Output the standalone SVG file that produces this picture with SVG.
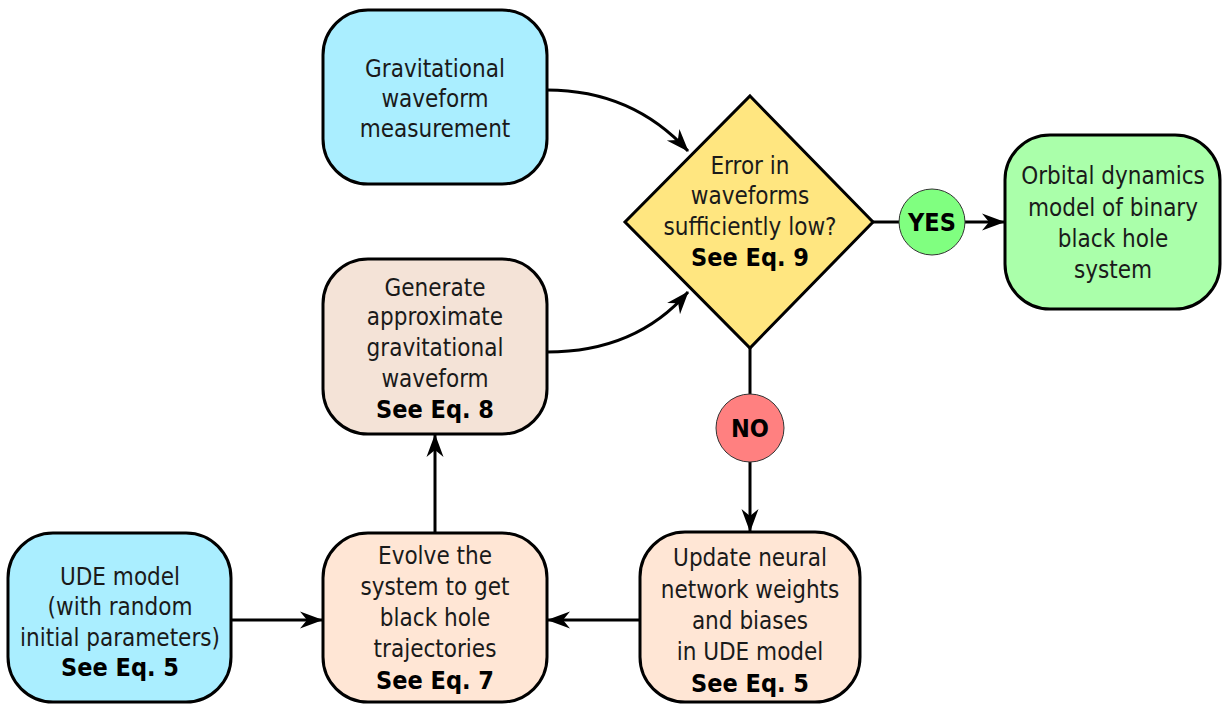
<svg xmlns="http://www.w3.org/2000/svg" width="1222" height="706" viewBox="0 0 1222 706">
<style>
.box{stroke:#000;stroke-width:3}
.t{font-family:"DejaVu Sans Condensed","DejaVu Sans",sans-serif;font-stretch:condensed;font-size:24px;fill:#1a1a1a;text-anchor:middle}
.b{font-weight:bold;fill:#000;font-size:25px}
.c{fill:none;stroke:#000;stroke-width:3}
.a{marker-end:url(#ah)}
</style>
<defs>
<marker id="ah" markerWidth="26" markerHeight="20" refX="22" refY="10" orient="auto" markerUnits="userSpaceOnUse">
<path d="M0,1.5 L23,10 L0,18.5 L7,10 Z" fill="#000"/>
</marker>
</defs>
<rect width="1222" height="706" fill="#fff"/>
<g id="connectors">
<path class="c a" d="M547,90 C610,90 655,115 688,151"/>
<path class="c a" d="M547,352 C610,352 655,330 688,292"/>
<path class="c" d="M873,222 L899,222"/>
<path class="c a" d="M965,222 L1004,222"/>
<path class="c" d="M750,348 L750,394"/>
<path class="c a" d="M750,462 L750,531"/>
<path class="c a" d="M640,620 L548,620"/>
<path class="c a" d="M231,620 L322,620"/>
<path class="c a" d="M435,533 L435,435"/>
</g>
<g id="measurement">
<rect class="box" x="323" y="10" width="224" height="174" rx="45" fill="#aaeeff"/>
<text class="t" x="435" y="77">Gravitational</text>
<text class="t" x="435" y="107">waveform</text>
<text class="t" x="435" y="137">measurement</text>
</g>
<g id="decision">
<path class="box" d="M750,96 L873,222 L750,348 L625,222 Z" fill="#ffe680"/>
<text class="t" x="750" y="174">Error in</text>
<text class="t" x="750" y="204">waveforms</text>
<text class="t" x="750" y="235">sufficiently low?</text>
<text class="t b" x="750" y="266">See Eq. 9</text>
</g>
<g id="yes">
<circle cx="932" cy="222" r="33" fill="#80ff80" stroke="#333" stroke-width="1"/>
<text class="t b" x="932" y="231">YES</text>
</g>
<g id="orbital">
<rect class="box" x="1005" y="135" width="215" height="174" rx="45" fill="#aaffaa"/>
<text class="t" x="1113" y="184">Orbital dynamics</text>
<text class="t" x="1113" y="216">model of binary</text>
<text class="t" x="1113" y="247">black hole</text>
<text class="t" x="1113" y="278">system</text>
</g>
<g id="generate">
<rect class="box" x="323" y="259" width="224" height="175" rx="45" fill="#f4e3d7"/>
<text class="t" x="435" y="296">Generate</text>
<text class="t" x="435" y="325">approximate</text>
<text class="t" x="435" y="356">gravitational</text>
<text class="t" x="435" y="387">waveform</text>
<text class="t b" x="435" y="418">See Eq. 8</text>
</g>
<g id="no">
<circle cx="750" cy="428" r="34" fill="#ff8080" stroke="#333" stroke-width="1"/>
<text class="t b" x="750" y="437">NO</text>
</g>
<g id="update">
<rect class="box" x="640" y="532" width="220" height="170" rx="45" fill="#ffe6d5"/>
<text class="t" x="750" y="566">Update neural</text>
<text class="t" x="750" y="598">network weights</text>
<text class="t" x="750" y="629">and biases</text>
<text class="t" x="750" y="660">in UDE model</text>
<text class="t b" x="750" y="692">See Eq. 5</text>
</g>
<g id="evolve">
<rect class="box" x="323" y="533" width="224" height="169" rx="45" fill="#ffe6d5"/>
<text class="t" x="435" y="564">Evolve the</text>
<text class="t" x="435" y="595">system to get</text>
<text class="t" x="435" y="626">black hole</text>
<text class="t" x="435" y="657">trajectories</text>
<text class="t b" x="435" y="689">See Eq. 7</text>
</g>
<g id="ude">
<rect class="box" x="8" y="533" width="223" height="169" rx="45" fill="#aaeeff"/>
<text class="t" x="120" y="585">UDE model</text>
<text class="t" x="120" y="615">(with random</text>
<text class="t" x="120" y="646">initial parameters)</text>
<text class="t b" x="120" y="676">See Eq. 5</text>
</g>
</svg>
